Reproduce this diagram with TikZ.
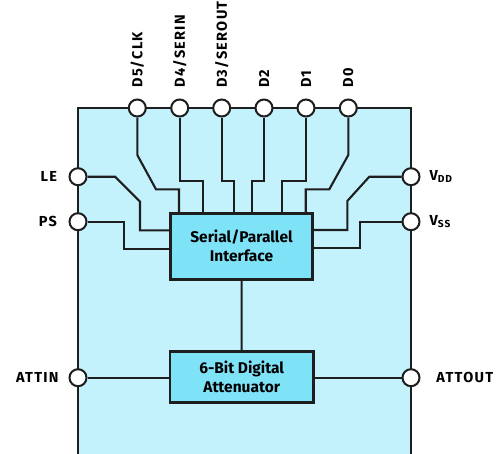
\documentclass[tikz,border=0pt]{standalone}
\usepackage{fontspec}
\setmainfont{Fira Sans}
\newfontfamily\pinfont[LetterSpace=9]{Fira Sans}
\usepackage{xcolor}
\usetikzlibrary{positioning}
\definecolor{chipbg}{HTML}{C3F1FC}
\definecolor{blockbg}{HTML}{7FE3F8}
\definecolor{ink}{HTML}{1E1E1E}

\begin{document}
\begin{tikzpicture}[
    x=1pt, y=-1pt, line join=miter,
    chip/.style={fill=chipbg, draw=ink, line width=2.3pt},
    block/.style={draw=ink, fill=blockbg, line width=2.5pt, align=center,
      font=\fontsize{15.5}{19}\selectfont\bfseries, inner sep=0pt},
    port/.style={circle, draw=ink, fill=white, line width=2pt,
      minimum size=17pt, inner sep=0pt},
    wire/.style={draw=ink, line width=2.1pt},
    lbl/.style={font=\pinfont\fontsize{14.5}{16}\selectfont\bfseries, inner sep=0pt},
    toplbl/.style={lbl, rotate=90, anchor=west}
]
\useasboundingbox (0,0) rectangle (503,453);
\path[chip] (78,456) -- (78,108) -- (411,108) -- (411,456);

\node[block, minimum width=141.6pt, minimum height=66pt] (spi) at (241.5,246.3)
  {Serial/Parallel\\Interface};
\node[block, minimum width=143.3pt, minimum height=50.6pt] (att) at (241.7,377)
  {6-Bit Digital\\Attenuator};

\foreach \n/\x/\t in {d5/137.3/{D5/CLK}, d4/179.7/{D4/SERIN},
                      d3/221.7/{D3/SEROUT}, d2/264/{D2}, d1/306/{D1}, d0/348.3/{D0}}{
  \node[port] (\n) at (\x,108) {};
  \node[toplbl] (l\n) at ([yshift=10.7pt]\n.north) {\t};
}
\node[port] (le) at (78,176.7) {};
\node[port] (ps) at (78,221.7) {};
\node[port] (vdd) at (411,176.7) {};
\node[port] (vss) at (411,221.7) {};
\node[port] (attin) at (78,377.7) {};
\node[port] (attout) at (411,377.7) {};

\node[lbl, left=11.4pt of le] (lle) {LE};
\node[lbl, left=11.4pt of ps] (lps) {PS};
\node[lbl, left=9.7pt of attin] (lattin) {ATTIN};
\node[lbl, right=9pt of vdd] (lvdd) {V\textsubscript{DD}};
\node[lbl, right=9pt of vss] (lvss) {V\textsubscript{SS}};
\node[lbl, right=15.7pt of attout] (lattout) {ATTOUT};

\draw[wire] (d5) -- (137.3,155) -- (156,189.3) -- (179,189.3) -- (spi.north -| 179,0);
\draw[wire] (d4) -- (179.7,181) -- (203.3,181) -- (spi.north -| 203.3,0);
\draw[wire] (d3) -- (221.7,181) -- (234.3,181) -- (spi.north -| 234.3,0);
\draw[wire] (d2) -- (264,181) -- (252.3,181) -- (spi.north -| 252.3,0);
\draw[wire] (d1) -- (306,181) -- (282.3,181) -- (spi.north -| 282.3,0);
\draw[wire] (d0) -- (348.3,155) -- (329.3,189.3) -- (305.7,189.3) -- (spi.north -| 305.7,0);

\draw[wire] (le) -- (115,176.7) -- (140,201.7) -- (140,230.3) -- (spi.west |- 0,230.3);
\draw[wire] (ps) -- (124,221.7) -- (124,249.3) -- (spi.west |- 0,249.3);
\draw[wire] (vdd) -- (369.3,176.7) -- (347.3,201) -- (347.3,230) -- (spi.east |- 0,230);
\draw[wire] (vss) -- (360,221.7) -- (360,248.3) -- (spi.east |- 0,248.3);

\draw[wire] (spi) -- (att);
\draw[wire] (attin) -- (att.west |- attin);
\draw[wire] (att.east |- attout) -- (attout);
\end{tikzpicture}
\end{document}
